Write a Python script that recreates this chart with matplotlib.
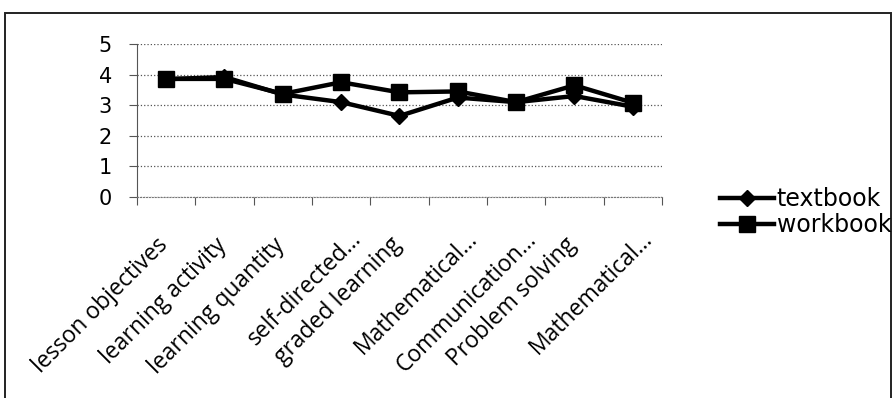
import matplotlib
matplotlib.use("Agg")
import matplotlib.pyplot as plt
from matplotlib.patches import Rectangle
from matplotlib.transforms import ScaledTranslation
import numpy as np

categories = ['lesson objectives', 'learning activity', 'learning quantity',
              'self-directed...', 'graded learning', 'Mathematical...',
              'Communication...', 'Problem solving', 'Mathematical...']
textbook = [3.85, 3.92, 3.35, 3.1, 2.65, 3.25, 3.1, 3.3, 2.95]
workbook = [3.86, 3.86, 3.37, 3.75, 3.42, 3.45, 3.1, 3.65, 3.08]
yticks = [0, 1, 2, 3, 4, 5]

W, H = 893, 398
fig = plt.figure(figsize=(W / 100, H / 100), dpi=100)

# outer chart border
fig.patches.append(Rectangle((5 / W, -0.05), (891 - 5) / W, 1.05 - 13 / H,
                             transform=fig.transFigure, fill=False,
                             edgecolor='#222222', lw=1.4))

ax = fig.add_axes([137 / W, 1 - 197 / H, 525 / W, 153 / H])
x = np.arange(len(categories))

ax.plot(x, textbook, color='black', lw=3.2, marker='D', ms=8, label='textbook', zorder=3)
ax.plot(x, workbook, color='black', lw=3.2, marker='s', ms=11, label='workbook', zorder=4)

ax.set_xlim(-0.5, len(categories) - 0.5)
ax.set_ylim(0, 5)
ax.set_yticks(yticks)
ax.set_yticklabels([str(v) for v in yticks], fontsize=15, family='DejaVu Sans')
ax.tick_params(axis='y', length=6, width=0.8, color='#555555', pad=12)

ax.set_xticks(x)
ax.set_xticklabels(categories, rotation=45, ha='right', va='top',
                   rotation_mode='anchor', fontsize=16.5, family='Open Sans')
ax.set_xticks(np.arange(len(categories) + 1) - 0.5, minor=True)
ax.tick_params(axis='x', which='major', length=0, pad=26)
ax.tick_params(axis='x', which='minor', length=6, width=0.8, color='#555555')

# truncated names sit a little further out along the diagonal
for lab in ax.get_xticklabels():
    if lab.get_text().endswith('...'):
        dx, dy = 0.08, 0.06
    else:
        dx, dy = -0.10, 0.0
    lab.set_transform(lab.get_transform() + ScaledTranslation(dx, dy, fig.dpi_scale_trans))

ax.grid(axis='y', color='#555555', ls=':', lw=0.9)
ax.set_axisbelow(True)
for side in ['top', 'right']:
    ax.spines[side].set_visible(False)
ax.spines['left'].set_color('#555555')
ax.spines['bottom'].set_color('#777777')
ax.spines['bottom'].set_linestyle(':')

leg = fig.legend(loc='upper left', bbox_to_anchor=(720 / W, 1 - 187 / H),
                 frameon=False, fontsize=17, handlelength=2.3, handletextpad=0.1,
                 labelspacing=0.1, borderaxespad=0, borderpad=0)
for t in leg.get_texts():
    t.set_family('DejaVu Sans')

fig.savefig('out.png', dpi=100)
